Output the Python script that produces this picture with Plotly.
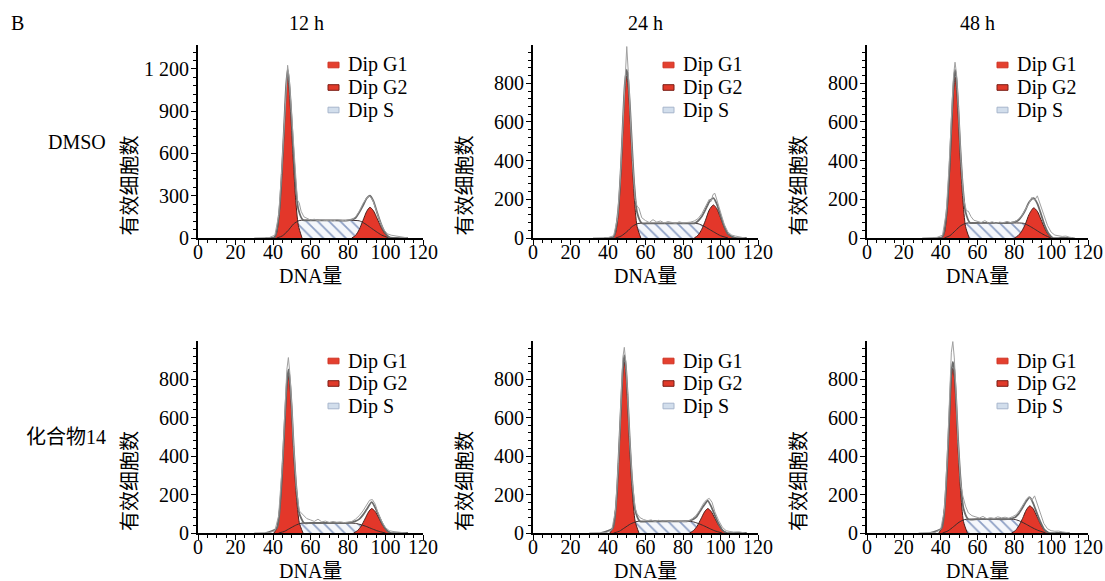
import plotly.graph_objects as go

W, H = 1105, 581
FONT = "Liberation Serif, 'Times New Roman', 'Noto Sans CJK SC', serif"

# ---------------- text ----------------
panel_letter = "B"
columns = ["12 h", "24 h", "48 h"]
rows = ["DMSO", "化合物14"]
y_title = "有效细胞数"
x_title = "DNA量"
legend_names = ["Dip G1", "Dip G2", "Dip S"]

# ---------------- data ----------------
# Panel order: DMSO 12h, 24h, 48h ; compound 14 12h, 24h, 48h
y_top = [1370, 998, 998, 998, 998, 998]
y_dtick = [300, 200, 200, 200, 200, 200]
g1_mean = [47.8, 50.0, 47.8, 48.2, 48.7, 46.6]
g2_mean = [91.7, 96.2, 90.5, 92.6, 93.2, 88.4]

# DMSO 12 h
d12_g1_x = [40.5, 42, 43.5, 45, 46, 47, 47.8, 48.6, 49.6, 50.6, 52, 53.5, 55.5]
d12_g1_y = [0, 40, 200, 520, 780, 1040, 1160, 1060, 850, 600, 290, 90, 0]
d12_g2_x = [82, 84, 86, 88, 90, 91.7, 93.5, 95.5, 97.5, 99.5, 101.5, 104]
d12_g2_y = [0, 18, 60, 125, 190, 218, 195, 140, 80, 34, 9, 0]
d12_s_x = [42, 45, 48, 51, 54, 60, 70, 80, 86, 89, 92, 95, 98, 102]
d12_s_y = [0, 15, 52, 100, 124, 126, 125, 125, 122, 102, 74, 46, 20, 0]
d12_fit_x = [36, 41, 43.5, 45, 46, 47, 47.8, 48.6, 49.6, 50.6, 52, 53.5, 56, 60, 70, 80, 84, 86, 88, 90, 91.7, 93.5, 95.5, 97.5, 99.5, 102, 106, 112]
d12_fit_y = [0, 8, 210, 540, 810, 1080, 1195, 1110, 920, 680, 390, 205, 128, 126, 125, 125, 142, 182, 230, 282, 300, 263, 182, 104, 44, 5, 0, 0]
d12_raw_x = [30, 38, 41, 43, 44.5, 46, 47, 47.8, 48.6, 49.6, 50.6, 52, 53, 54, 55, 56.5, 58, 60, 62, 64, 66, 68, 70, 72, 74, 76, 78, 80, 82, 84, 86, 88, 90, 91.5, 93, 95, 97, 99, 101, 103, 105, 107, 109, 112]
d12_raw_y = [0, 3, 20, 160, 450, 830, 1110, 1226, 1140, 940, 690, 400, 270, 248, 190, 150, 140, 128, 133, 122, 130, 124, 127, 120, 131, 125, 122, 128, 130, 150, 190, 245, 285, 298, 275, 200, 120, 60, 30, 20, 15, 10, 3, 0]

# DMSO 24 h
d24_g1_x = [42.5, 44, 45.5, 47, 48, 49, 50, 50.8, 51.8, 52.8, 54, 55.5, 57.5]
d24_g1_y = [0, 25, 130, 360, 580, 770, 838, 780, 620, 420, 210, 60, 0]
d24_g2_x = [86, 88, 90, 92, 94, 96.2, 98, 100, 102, 104, 107]
d24_g2_y = [0, 14, 45, 92, 145, 171, 152, 105, 55, 20, 0]
d24_s_x = [44, 47, 50, 53, 56, 62, 72, 82, 88, 91, 94, 97, 100, 104]
d24_s_y = [0, 10, 32, 60, 75, 76, 76, 76, 74, 62, 45, 28, 12, 0]
d24_fit_x = [38, 43, 45.5, 47, 48, 49, 50, 50.8, 51.8, 52.8, 54, 55.5, 58, 62, 72, 82, 86, 88, 90, 92, 94, 96.2, 98, 100, 102, 104, 108, 114]
d24_fit_y = [0, 5, 150, 387, 610, 800, 870, 818, 665, 475, 276, 133, 76, 76, 76, 76, 76, 88, 111, 147, 187, 206, 177, 117, 61, 20, 0, 0]
d24_raw_x = [32, 40, 43, 45, 46.5, 48, 49, 50, 50.8, 51.8, 53, 54.5, 55.5, 56.5, 58, 60, 62, 64, 66, 68, 70, 72, 74, 76, 78, 80, 82, 84, 86, 88, 90, 92, 94, 95, 96, 97, 98, 99, 100, 102, 104, 106, 108, 110, 113]
d24_raw_y = [0, 2, 12, 100, 300, 580, 820, 990, 860, 660, 400, 200, 165, 154, 105, 90, 80, 95, 82, 88, 78, 85, 80, 76, 84, 78, 80, 82, 88, 100, 125, 165, 200, 190, 225, 231, 200, 175, 140, 70, 30, 15, 10, 5, 0]

# DMSO 48 h
d48_g1_x = [40.5, 42, 43.5, 45, 46, 47, 47.8, 48.6, 49.6, 50.6, 52, 53.5, 55.5]
d48_g1_y = [0, 25, 140, 370, 580, 760, 833, 780, 620, 420, 200, 60, 0]
d48_g2_x = [80, 82, 84, 86, 88, 90.5, 92.5, 94.5, 96.5, 98.5, 101]
d48_g2_y = [0, 12, 35, 72, 122, 156, 138, 95, 50, 17, 0]
d48_s_x = [42, 45, 48, 51, 54, 60, 70, 80, 85, 88, 91, 94, 97, 100]
d48_s_y = [0, 12, 38, 64, 77, 78, 78, 78, 76, 63, 46, 28, 12, 0]
d48_fit_x = [36, 41, 43.5, 45, 46, 47, 47.8, 48.6, 49.6, 50.6, 52, 53.5, 56, 60, 70, 78, 82, 84, 86, 88, 90.5, 92.5, 94.5, 96.5, 98.5, 101, 105, 112]
d48_fit_y = [0, 6, 162, 400, 614, 797, 870, 822, 670, 478, 268, 135, 78, 78, 78, 78, 90, 112, 145, 185, 206, 178, 123, 65, 24, 0, 0, 0]
d48_raw_x = [30, 38, 41, 43, 44.5, 46, 47, 47.8, 48.6, 49.6, 51, 52.5, 54, 55, 56.5, 58, 60, 62, 64, 66, 68, 70, 72, 74, 76, 78, 80, 82, 84, 86, 88, 89.5, 91, 92.5, 94, 96, 98, 100, 102, 104, 106, 108, 110, 113]
d48_raw_y = [0, 3, 15, 130, 360, 650, 840, 909, 850, 680, 400, 200, 140, 139, 110, 92, 85, 80, 90, 78, 84, 76, 82, 79, 86, 80, 84, 95, 115, 145, 180, 210, 195, 218, 180, 120, 65, 30, 15, 12, 8, 10, 4, 0]

# Compound 14, 12 h
c12_g1_x = [40.5, 42, 44, 45.5, 46.5, 47.4, 48.2, 49, 50, 51, 52.4, 54, 56]
c12_g1_y = [0, 25, 170, 420, 610, 760, 817, 770, 620, 420, 200, 55, 0]
c12_g2_x = [83, 85, 87, 89, 91, 92.6, 94.5, 96.5, 98.5, 100.5, 103]
c12_g2_y = [0, 12, 35, 72, 110, 127, 112, 76, 40, 15, 0]
c12_s_x = [43, 46, 49, 52, 55, 60, 70, 80, 84, 87, 90, 93, 96, 100]
c12_s_y = [0, 8, 24, 40, 51, 52, 52, 52, 50, 43, 33, 21, 10, 0]
c12_fit_x = [36, 42, 44, 45.5, 46.5, 47.4, 48.2, 49, 50, 51, 52.4, 54, 56.5, 60, 70, 80, 84, 86, 88, 90, 92.6, 94.5, 96.5, 98.5, 100.5, 103, 107, 112]
c12_fit_y = [0, 25, 173, 432, 626, 780, 850, 795, 649, 455, 242, 103, 52, 52, 52, 52, 62, 72, 94, 123, 160, 132, 88, 46, 15, 0, 0, 0]
c12_raw_x = [30, 38, 41, 43, 45, 46.5, 47.4, 48.2, 49, 50, 51, 52.5, 54, 55, 56.5, 58, 60, 62, 64, 66, 68, 70, 72, 74, 76, 78, 80, 82, 84, 86, 88, 90, 91.5, 93, 94.5, 96, 98, 100, 102, 104, 106, 108, 111]
c12_raw_y = [0, 2, 12, 90, 360, 670, 850, 912, 830, 660, 450, 230, 115, 105, 90, 75, 68, 60, 72, 58, 62, 55, 60, 56, 58, 54, 57, 60, 72, 90, 115, 145, 170, 174, 150, 105, 60, 28, 12, 8, 5, 3, 0]

# Compound 14, 24 h
c24_g1_x = [41, 42.5, 44.5, 46, 47, 47.9, 48.7, 49.5, 50.5, 51.5, 52.9, 54.5, 56.5]
c24_g1_y = [0, 25, 170, 450, 660, 830, 890, 840, 670, 460, 220, 60, 0]
c24_g2_x = [83.5, 85.5, 87.5, 89.5, 91.5, 93.2, 95, 97, 99, 101, 103.5]
c24_g2_y = [0, 12, 35, 72, 110, 127, 112, 76, 40, 15, 0]
c24_s_x = [43, 46, 49, 52, 55.5, 60, 70, 80, 85, 88, 91, 94, 97, 101]
c24_s_y = [0, 9, 28, 47, 60, 61, 61, 61, 59, 50, 38, 24, 11, 0]
c24_fit_x = [36, 42.5, 44.5, 46, 47, 47.9, 48.7, 49.5, 50.5, 51.5, 52.9, 54.5, 57, 62, 72, 82, 85, 87, 89, 91.5, 93.2, 95, 97, 99, 101, 103.5, 108, 114]
c24_fit_y = [0, 25, 175, 463, 679, 854, 925, 872, 707, 503, 272, 118, 61, 61, 61, 61, 69, 82, 112, 148, 168, 138, 92, 48, 15, 0, 0, 0]
c24_raw_x = [30, 39, 42, 44, 45.5, 47, 47.9, 48.7, 49.5, 50.5, 51.5, 53, 54.5, 55.5, 57, 59, 61, 63, 65, 67, 69, 71, 73, 75, 77, 79, 81, 83, 85, 87, 89, 91, 92.5, 94, 95.5, 97, 99, 101, 103, 105, 107, 110, 113]
c24_raw_y = [0, 2, 15, 120, 360, 700, 910, 965, 890, 720, 500, 260, 130, 100, 80, 70, 64, 68, 60, 66, 62, 64, 60, 63, 61, 62, 60, 64, 75, 92, 120, 155, 172, 180, 160, 110, 65, 30, 12, 8, 5, 6, 0]

# Compound 14, 48 h
c48_g1_x = [39, 40.5, 42.5, 44, 45, 45.8, 46.6, 47.4, 48.4, 49.4, 50.8, 52.4, 54.5]
c48_g1_y = [0, 25, 170, 440, 650, 810, 856, 815, 660, 450, 220, 60, 0]
c48_g2_x = [78.5, 80.5, 82.5, 84.5, 86.5, 88.4, 90.3, 92.3, 94.3, 96.3, 99]
c48_g2_y = [0, 12, 38, 76, 120, 141, 125, 85, 45, 16, 0]
c48_s_x = [41, 44, 47, 50, 53, 58, 68, 76, 80.5, 83.5, 86.5, 89.5, 92.5, 97]
c48_s_y = [0, 11, 33, 56, 70, 72, 72, 72, 70, 60, 45, 29, 15, 0]
c48_fit_x = [34, 40.5, 42.5, 44, 45, 45.8, 46.6, 47.4, 48.4, 49.4, 50.8, 52.4, 55, 60, 68, 76, 80.5, 82.5, 84.5, 86.5, 88.4, 90.3, 92.3, 94.3, 96.3, 99, 103, 110]
c48_fit_y = [0, 25, 176, 451, 668, 833, 890, 849, 700, 498, 280, 127, 71, 72, 72, 72, 82, 102, 132, 165, 185, 153, 102, 55, 18, 0, 0, 0]
c48_raw_x = [28, 37, 40, 42, 43.5, 45, 45.8, 46.6, 47.4, 48.4, 49.4, 50.8, 52, 53.5, 55, 57, 59, 61, 63, 65, 67, 69, 71, 73, 75, 77, 79, 81, 83, 85, 86.5, 88, 89.5, 91, 92.5, 94, 96, 98, 100, 102, 104, 106, 108, 110]
c48_raw_y = [0, 3, 18, 120, 380, 720, 940, 995, 910, 720, 480, 260, 194, 140, 105, 90, 82, 78, 86, 74, 80, 76, 84, 79, 82, 77, 85, 95, 120, 150, 175, 190, 170, 193, 150, 95, 50, 22, 12, 9, 10, 6, 4, 0]

panels = [
    (d12_g1_x, d12_g1_y, d12_g2_x, d12_g2_y, d12_s_x, d12_s_y, d12_fit_x, d12_fit_y, d12_raw_x, d12_raw_y),
    (d24_g1_x, d24_g1_y, d24_g2_x, d24_g2_y, d24_s_x, d24_s_y, d24_fit_x, d24_fit_y, d24_raw_x, d24_raw_y),
    (d48_g1_x, d48_g1_y, d48_g2_x, d48_g2_y, d48_s_x, d48_s_y, d48_fit_x, d48_fit_y, d48_raw_x, d48_raw_y),
    (c12_g1_x, c12_g1_y, c12_g2_x, c12_g2_y, c12_s_x, c12_s_y, c12_fit_x, c12_fit_y, c12_raw_x, c12_raw_y),
    (c24_g1_x, c24_g1_y, c24_g2_x, c24_g2_y, c24_s_x, c24_s_y, c24_fit_x, c24_fit_y, c24_raw_x, c24_raw_y),
    (c48_g1_x, c48_g1_y, c48_g2_x, c48_g2_y, c48_s_x, c48_s_y, c48_fit_x, c48_fit_y, c48_raw_x, c48_raw_y),
]

# ---------------- layout geometry (pixels) ----------------
col_px = [(198, 423), (533, 758), (867, 1088)]
row_px = [(45, 238), (341, 533)]

RED = "#e3372a"
RED_EDGE = "#4a1e1a"
S_EDGE = "#3a2c2c"

def px2x(p):
    return p / W

def px2y(p):
    return 1 - p / H

fig = go.Figure()
layout = dict(
    template="none",
    width=W, height=H,
    margin=dict(l=0, r=0, t=0, b=0, autoexpand=False),
    paper_bgcolor="white", plot_bgcolor="white",
    showlegend=False,
    separators=". ",
    font=dict(family=FONT, size=20, color="black"),
)
annotations = []
shapes = []

for i, data in enumerate(panels):
    r, c = divmod(i, 3)
    suf = "" if i == 0 else str(i + 1)
    xa, ya = "x" + suf, "y" + suf
    g1x, g1y, g2x, g2y, sx, sy, fx, fy, rx, ry = data
    x0, x1 = col_px[c]
    y0, y1 = row_px[r]

    # S phase (hatched)
    fig.add_trace(go.Scatter(x=sx, y=sy, xaxis=xa, yaxis=ya, mode="lines",
                             line=dict(width=0, shape="spline", smoothing=0.6),
                             fill="tozeroy", fillcolor="#f3f6fb",
                             fillpattern=dict(shape="\\", fgcolor="#8d9fc4", bgcolor="#f5f7fb",
                                              size=8, solidity=0.22),
                             hoverinfo="skip"))
    # G1 and G2 peaks
    for gx, gy in ((g1x, g1y), (g2x, g2y)):
        fig.add_trace(go.Scatter(x=gx, y=gy, xaxis=xa, yaxis=ya, mode="lines",
                                 line=dict(color=RED_EDGE, width=1, shape="spline", smoothing=0.7),
                                 fill="tozeroy", fillcolor=RED, hoverinfo="skip"))
    # S outline
    fig.add_trace(go.Scatter(x=sx, y=sy, xaxis=xa, yaxis=ya, mode="lines",
                             line=dict(color=S_EDGE, width=1, shape="spline", smoothing=0.6),
                             hoverinfo="skip"))
    # model fit
    fig.add_trace(go.Scatter(x=fx, y=fy, xaxis=xa, yaxis=ya, mode="lines",
                             line=dict(color="#6b6b6b", width=1.8, shape="spline", smoothing=0.6),
                             hoverinfo="skip"))
    # raw histogram
    fig.add_trace(go.Scatter(x=rx, y=ry, xaxis=xa, yaxis=ya, mode="lines",
                             line=dict(color="#a0a0a0", width=1),
                             hoverinfo="skip"))
    # peak markers on the axis
    yunit = (y1 - y0) / y_top[i]
    fig.add_trace(go.Scatter(x=[g1_mean[i], g2_mean[i]], y=[-3.2 / yunit] * 2,
                             xaxis=xa, yaxis=ya, mode="markers", cliponaxis=False,
                             marker=dict(symbol="triangle-up", size=7, color="#1d1d3c"),
                             hoverinfo="skip"))

    axis_common = dict(showline=True, linecolor="black", linewidth=1.8,
                       ticks="outside", ticklen=5, tickwidth=1.2, tickcolor="black",
                       showgrid=False, zeroline=False, fixedrange=True, automargin=False,
                       ticklabeloverflow="allow",
                       tickfont=dict(family=FONT, size=20, color="black"))
    layout["xaxis" + suf] = dict(axis_common, domain=[px2x(x0), px2x(x1)], range=[0, 120],
                                 anchor=ya, tickmode="linear", tick0=0, dtick=20,
                                 ticklabelstandoff=-10,
                                 minor=dict(tickmode="linear", tick0=0, dtick=5, ticks="outside",
                                            ticklen=3, tickwidth=1, tickcolor="black"))
    layout["yaxis" + suf] = dict(axis_common, domain=[px2y(y1), px2y(y0)], range=[0, y_top[i]],
                                 anchor=xa, tickmode="linear", tick0=0, dtick=y_dtick[i],
                                 tickformat=",d", ticklabelstandoff=-2,
                                 minor=dict(tickmode="linear", tick0=0, dtick=y_dtick[i] / 5,
                                            ticks="outside", ticklen=3, tickwidth=1,
                                            tickcolor="black"))

    # axis titles
    annotations.append(dict(text=y_title, x=px2x(x0 - 68), y=px2y((y0 + y1) / 2 + 44),
                            xref="paper", yref="paper", textangle=-90, showarrow=False,
                            xanchor="center", yanchor="middle",
                            font=dict(family=FONT, size=20, color="black")))
    annotations.append(dict(text=x_title, x=px2x((x0 + x1) / 2), y=px2y(y1 + 38),
                            xref="paper", yref="paper", showarrow=False,
                            xanchor="center", yanchor="middle",
                            font=dict(family=FONT, size=20, color="black")))

    # legend
    for k, name in enumerate(legend_names):
        cy = y0 + 20 + k * 22.5
        annotations.append(dict(text=name, x=px2x(x0 + 148), y=px2y(cy),
                                xref="paper", yref="paper", showarrow=False,
                                xanchor="left", yanchor="middle",
                                font=dict(family=FONT, size=20, color="black")))
        if k == 0:
            fillc, linec = "#e4402f", "#d03525"
        elif k == 1:
            fillc, linec = "#e03a2a", "#7a1d14"
        else:
            fillc, linec = "#d2deec", "#a7b6cc"
        shapes.append(dict(type="rect", xref="paper", yref="paper",
                           x0=px2x(x0 + 130), x1=px2x(x0 + 141),
                           y0=px2y(cy + 2.8), y1=px2y(cy - 2.8),
                           fillcolor=fillc, line=dict(color=linec, width=1)))

# column and row labels
annotations.append(dict(text=panel_letter, x=px2x(9), y=px2y(23), xref="paper", yref="paper",
                        showarrow=False, xanchor="left", yanchor="middle",
                        font=dict(family=FONT, size=20, color="black")))
for c, name in enumerate(columns):
    cx = (col_px[c][0] + col_px[c][1]) / 2 - (4 if c == 0 else 0)
    annotations.append(dict(text=name, x=px2x(cx), y=px2y(23), xref="paper", yref="paper",
                            showarrow=False, xanchor="center", yanchor="middle",
                            font=dict(family=FONT, size=20, color="black")))
for r, name in enumerate(rows):
    cy = [142, 437][r]
    annotations.append(dict(text=name, x=px2x(108), y=px2y(cy), xref="paper", yref="paper",
                            showarrow=False, xanchor="right", yanchor="middle",
                            font=dict(family=FONT, size=20, color="black")))

layout["annotations"] = annotations
layout["shapes"] = shapes
fig.update_layout(**layout)
fig.write_html("out.html",
               config={"displayModeBar": False},
               post_script="document.body.style.margin='0';document.body.style.overflow='hidden';")
